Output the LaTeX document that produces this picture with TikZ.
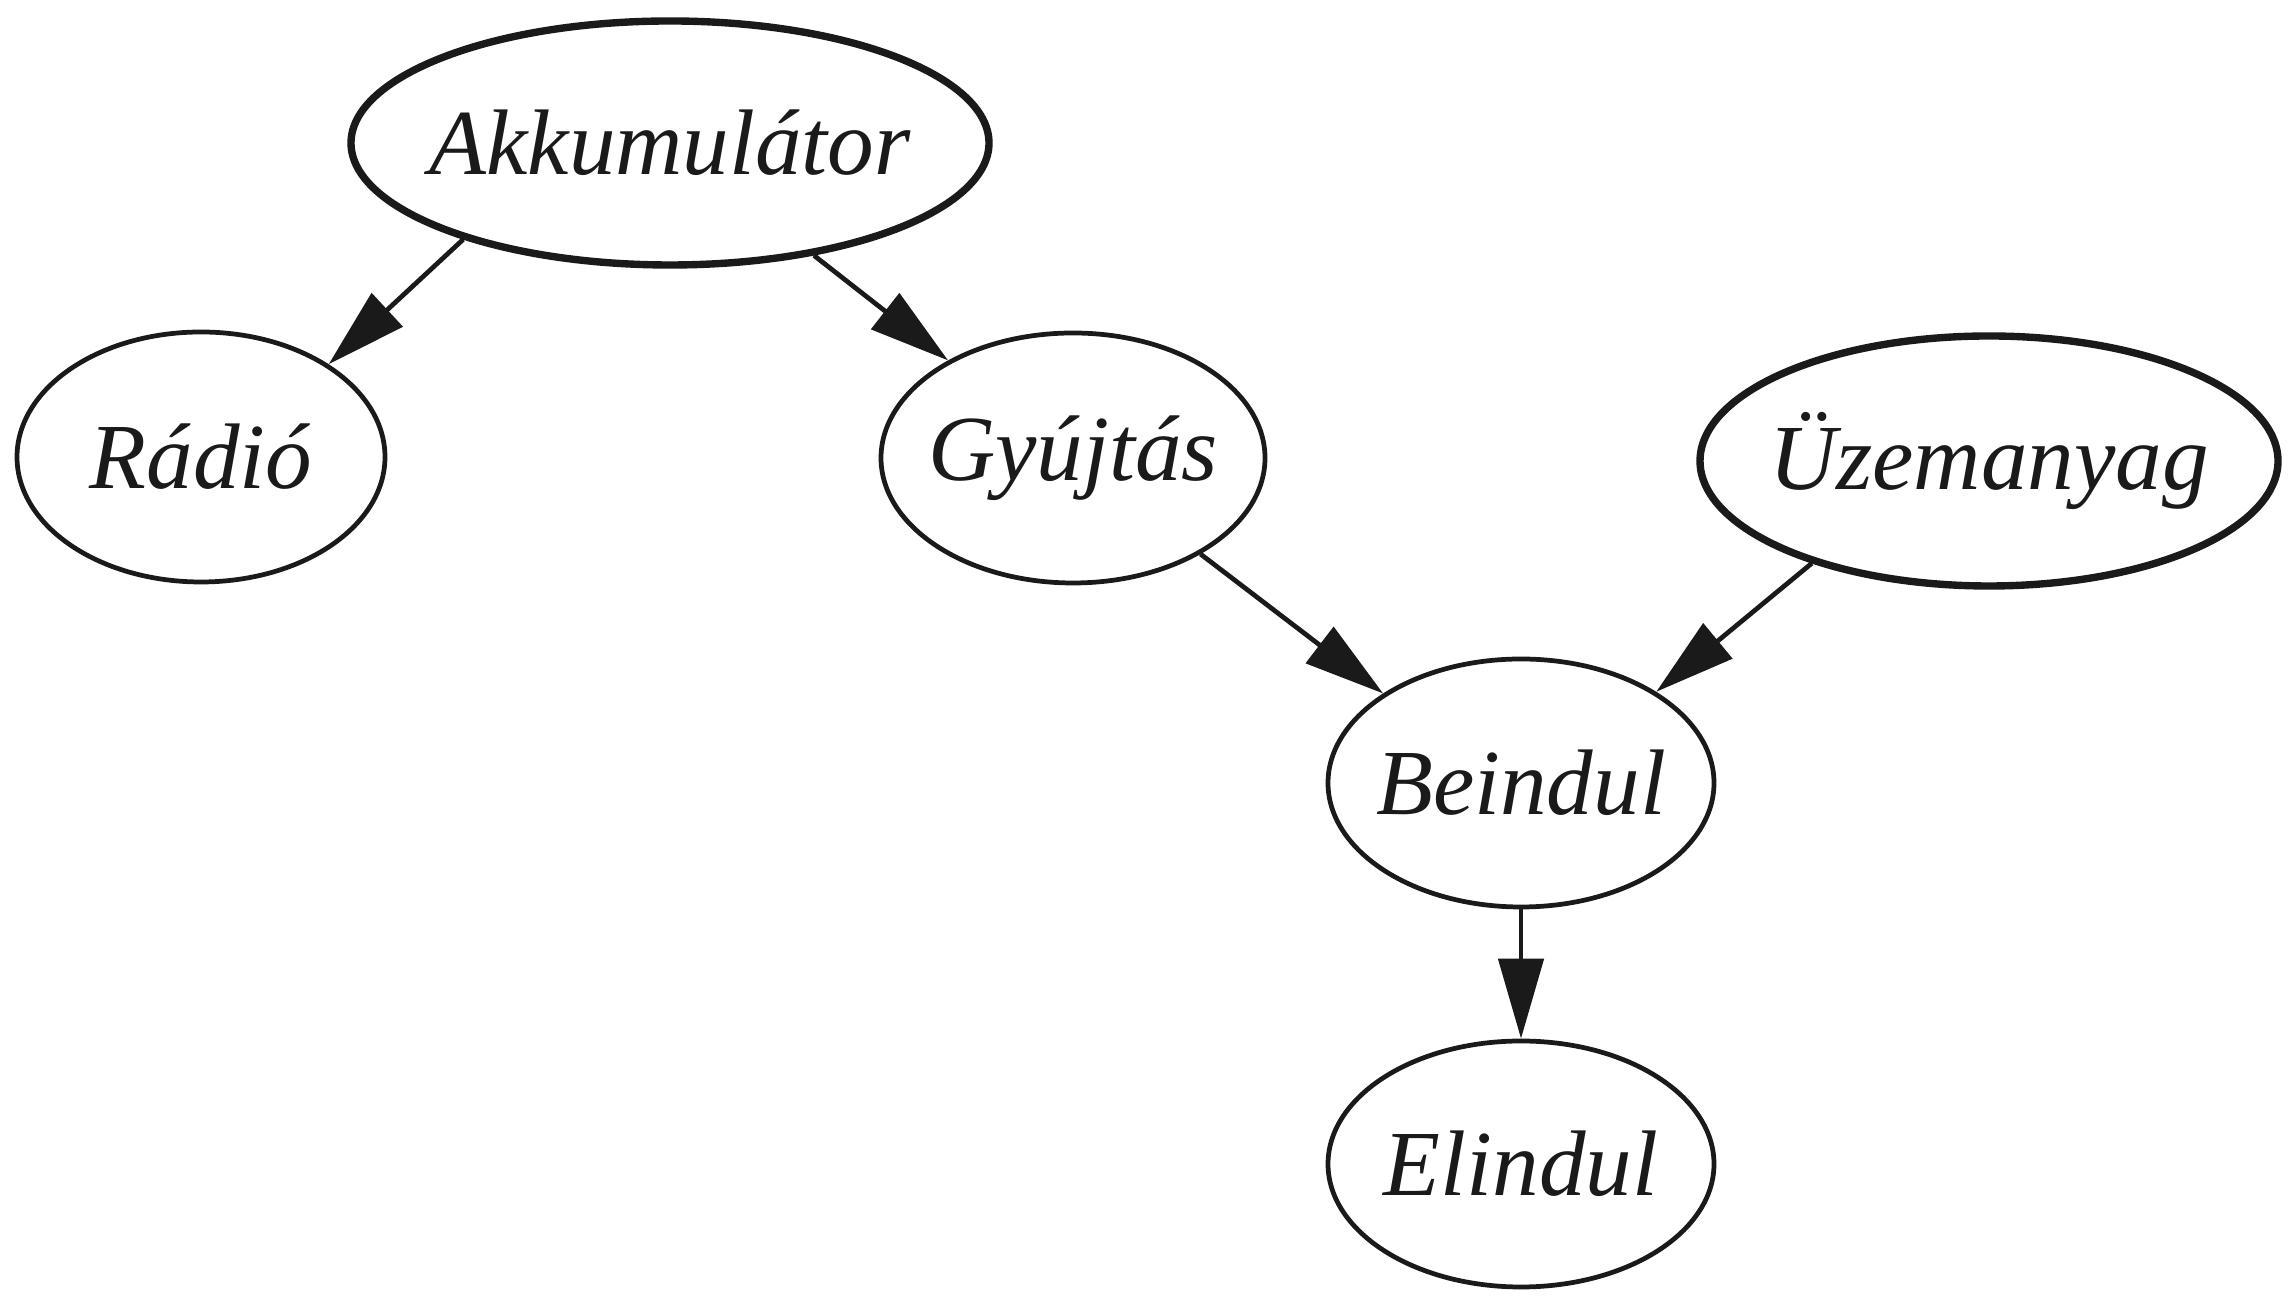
\documentclass[tikz,border=0pt]{standalone}
\usepackage{fontspec}
\setmainfont{Liberation Serif}
\usetikzlibrary{shapes.geometric,arrows.meta}
\definecolor{ink}{HTML}{1A1A1A}

\begin{document}
\begin{tikzpicture}[
    var/.style={draw=ink, text=ink, ellipse, inner ysep=0pt, inner xsep=-3cm, line width=1.35pt,
        font=\fontsize{26.5}{30}\selectfont\itshape},
    root/.style={var, line width=2.1pt},
    edge/.style={draw=ink, fill=ink, line width=1.35pt, -{Triangle[length=0.8cm,width=0.45cm]}}
]
    \useasboundingbox (0,0) rectangle (22.89,13.05);

    \node[root, minimum width=6.38cm, minimum height=2.44cm] (akku) at (6.70,11.62) {Akkumulátor};
    \node[var, minimum width=3.68cm, minimum height=2.50cm] (radio) at (2.01,8.48) {Rádió};
    \node[var, minimum width=3.84cm, minimum height=2.50cm] (gyujt) at (10.73,8.47) {Gyújtás};
    \node[root, minimum width=5.78cm, minimum height=2.50cm] (uzem) at (19.89,8.44) {Üzemanyag};
    \node[var, minimum width=3.86cm, minimum height=2.48cm] (bein) at (15.21,5.22) {Beindul};
    \node[var, minimum width=3.86cm, minimum height=2.46cm] (elin) at (15.21,1.41) {Elindul};

    \draw[edge] (akku.205) to (radio.36);
    \draw[edge] (akku.322) to (gyujt.142);
    \draw[edge] (gyujt.323) to (bein.147);
    \draw[edge] (uzem.210) to (bein.34);
    \draw[edge] (bein.south) to (elin.north);
\end{tikzpicture}
\end{document}
